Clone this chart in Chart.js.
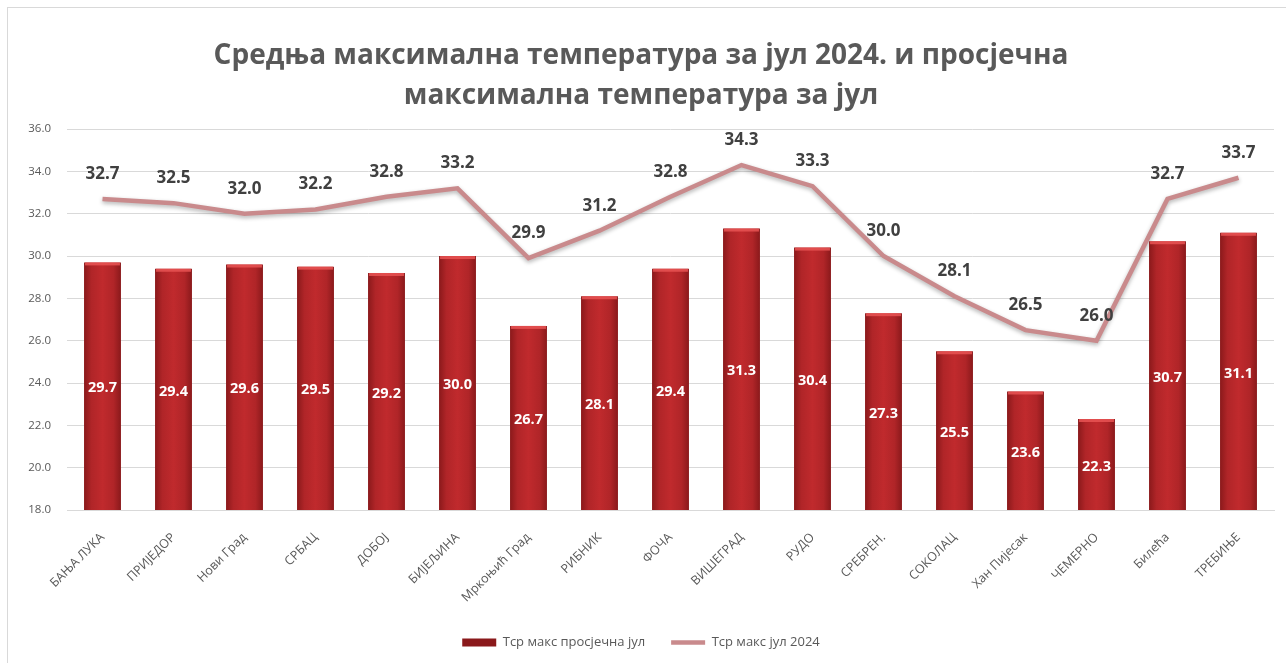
<!DOCTYPE html>
<html>
<head>
<meta charset="utf-8">
<script src="https://cdn.jsdelivr.net/npm/chart.js@4.4.1/dist/chart.umd.min.js"></script>
<style>
  body { margin: 0; background: #fff; overflow: hidden; }
  #frame { position: absolute; left: 7px; top: 7px; width: 1300px; height: 700px; border: 1px solid #d9d9d9; }
  #chart { position: absolute; left: 8px; top: 8px; }
</style>
</head>
<body>
<div id="frame"></div>
<canvas id="chart" width="1278" height="655"></canvas>
<script>
// станице
const stations = ['БАЊА ЛУКА', 'ПРИЈЕДОР', 'Нови Град', 'СРБАЦ', 'ДОБОЈ', 'БИЈЕЉИНА', 'Мркоњић Град', 'РИБНИК', 'ФОЧА',
  'ВИШЕГРАД', 'РУДО', 'СРЕБРЕН.', 'СОКОЛАЦ', 'Хан Пијесак', 'ЧЕМЕРНО', 'Билећа', 'ТРЕБИЊЕ'];
// просјечна максимална за јул (стубићи)
const avgJuly = [29.7, 29.4, 29.6, 29.5, 29.2, 30.0, 26.7, 28.1, 29.4, 31.3, 30.4, 27.3, 25.5, 23.6, 22.3, 30.7, 31.1];
// средња максимална јул 2024 (линија)
const july2024 = [32.7, 32.5, 32.0, 32.2, 32.8, 33.2, 29.9, 31.2, 32.8, 34.3, 33.3, 30.0, 28.1, 26.5, 26.0, 32.7, 33.7];
const yTicks = [18, 20, 22, 24, 26, 28, 30, 32, 34, 36];

const gray = '#595959';
const barPct = 0.52;

// градијент за стубиће
function barFill(c) {
  const xs = c.chart.scales.x;
  if (c.type !== 'data' || !xs) return '#a51f22';
  const cx = xs.getPixelForValue(c.dataIndex);
  const w = xs.width / stations.length * barPct;
  if (!isFinite(cx) || !isFinite(w) || w <= 0) return '#a51f22';
  const g = c.chart.ctx.createLinearGradient(cx - w / 2, 0, cx + w / 2, 0);
  g.addColorStop(0, '#8a191b');
  g.addColorStop(0.2, '#b02528');
  g.addColorStop(0.5, '#c02a2d');
  g.addColorStop(0.8, '#b02528');
  g.addColorStop(1, '#8a191b');
  return g;
}

// сјенка за линију
const lineShadow = {
  id: 'lineShadow',
  beforeDatasetDraw(chart, args) {
    if (args.index !== 1) return;
    const ctx = chart.ctx;
    ctx.save();
    ctx.shadowColor = 'rgba(0,0,0,0.3)';
    ctx.shadowBlur = 4;
    ctx.shadowOffsetY = 2;
  },
  afterDatasetDraw(chart, args) {
    if (args.index !== 1) return;
    chart.ctx.restore();
  }
};

// вриједности на стубићима и линији
const valueLabels = {
  id: 'valueLabels',
  afterDatasetsDraw(chart) {
    const ctx = chart.ctx;
    const bottom = chart.scales.y.getPixelForValue(yTicks[0]);
    ctx.save();
    ctx.textAlign = 'center';
    ctx.textBaseline = 'middle';
    const bars = chart.getDatasetMeta(0).data;
    bars.forEach((el, i) => {
      // свјетлији врх стубића
      ctx.fillStyle = 'rgba(232,84,84,0.85)';
      ctx.fillRect(el.x - el.width / 2 + 1, el.y, el.width - 2, 3);
      ctx.fillStyle = '#ffffff';
      ctx.font = 'bold 14.5px "Open Sans"';
      ctx.fillText(avgJuly[i].toFixed(1), el.x, (el.y + bottom) / 2 + 2);
    });
    const pts = chart.getDatasetMeta(1).data;
    pts.forEach((el, i) => {
      ctx.fillStyle = '#404040';
      ctx.font = 'bold 17px "Open Sans"';
      ctx.fillText(july2024[i].toFixed(1), el.x, el.y - 25);
    });
    ctx.restore();
  }
};

new Chart(document.getElementById('chart'), {
  type: 'bar',
  data: {
    labels: stations,
    datasets: [
      {
        type: 'bar',
        label: 'Тср макс просјечна јул',
        data: avgJuly,
        backgroundColor: barFill,
        borderWidth: 0,
        barPercentage: barPct,
        categoryPercentage: 1,
        pointStyle: 'rect'
      },
      {
        type: 'line',
        label: 'Тср макс јул 2024',
        data: july2024,
        borderColor: '#c98a8c',
        backgroundColor: '#c98a8c',
        borderWidth: 4.5,
        pointRadius: 0,
        tension: 0,
        pointStyle: 'line'
      }
    ]
  },
  options: {
    responsive: false,
    animation: false,
    layout: { padding: { left: 0, right: 12, top: 0, bottom: 4 } },
    plugins: {
      title: {
        display: true,
        text: ['Средња максимална температура за јул 2024. и просјечна', 'максимална температура за јул'],
        color: gray,
        font: { family: 'Open Sans', size: 28, weight: 'bold', lineHeight: 1.43 },
        padding: { top: 28, bottom: 13 }
      },
      legend: {
        position: 'bottom',
        labels: {
          color: gray,
          font: { family: 'Open Sans', size: 13 },
          usePointStyle: true,
          pointStyleWidth: 34,
          boxHeight: 8,
          padding: 26
        }
      },
      tooltip: { enabled: false }
    },
    scales: {
      x: {
        grid: { display: false },
        border: { color: '#d9d9d9' },
        ticks: {
          color: gray,
          font: { family: 'Open Sans', size: 12.5 },
          minRotation: 45,
          maxRotation: 45,
          padding: 12
        },
        afterFit(scale) { scale.height = 100; }
      },
      y: {
        min: yTicks[0],
        max: yTicks[yTicks.length - 1],
        afterBuildTicks(scale) { scale.ticks = yTicks.map(v => ({ value: v })); },
        grid: { color: '#d9d9d9', drawTicks: false },
        border: { display: false },
        ticks: {
          color: gray,
          font: { family: 'Open Sans', size: 11.5 },
          padding: 16,
          callback: v => v.toFixed(1)
        },
        afterFit(scale) { scale.width = 59; }
      }
    }
  },
  plugins: [lineShadow, valueLabels]
});
</script>
</body>
</html>
